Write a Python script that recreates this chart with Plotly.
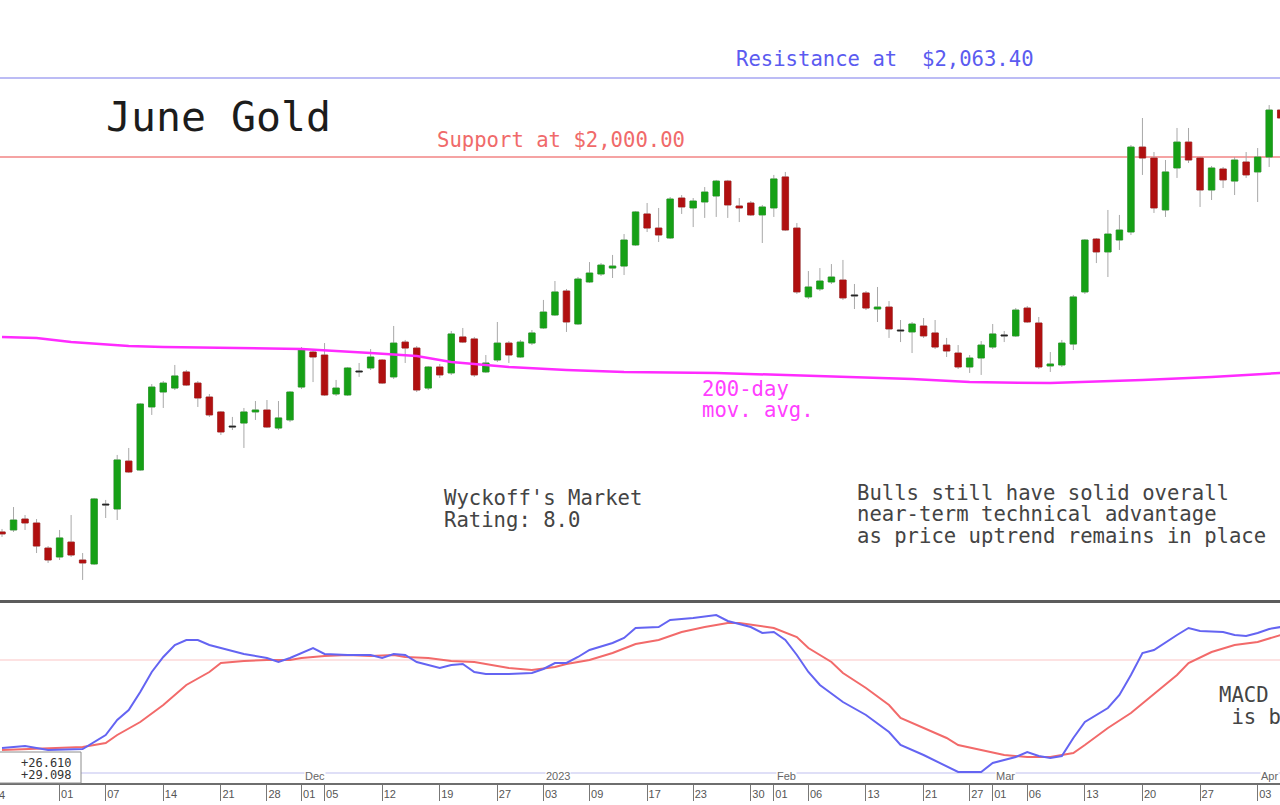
import plotly.graph_objects as go

W, H = 1280, 805

# ---------------- data ----------------
dates = [
    "2022-10-25", "2022-10-26", "2022-10-27", "2022-10-28", "2022-10-31",
    "2022-11-01", "2022-11-02", "2022-11-03", "2022-11-04", "2022-11-07", "2022-11-08", "2022-11-09",
    "2022-11-10", "2022-11-11", "2022-11-14", "2022-11-15", "2022-11-16", "2022-11-17", "2022-11-18",
    "2022-11-21", "2022-11-22", "2022-11-23", "2022-11-25", "2022-11-28", "2022-11-29", "2022-11-30",
    "2022-12-01", "2022-12-02", "2022-12-05", "2022-12-06", "2022-12-07", "2022-12-08", "2022-12-09",
    "2022-12-12", "2022-12-13", "2022-12-14", "2022-12-15", "2022-12-16", "2022-12-19", "2022-12-20",
    "2022-12-21", "2022-12-22", "2022-12-23", "2022-12-27", "2022-12-28", "2022-12-29", "2022-12-30",
    "2023-01-03", "2023-01-04", "2023-01-05", "2023-01-06", "2023-01-09", "2023-01-10", "2023-01-11",
    "2023-01-12", "2023-01-13", "2023-01-17", "2023-01-18", "2023-01-19", "2023-01-20", "2023-01-23",
    "2023-01-24", "2023-01-25", "2023-01-26", "2023-01-27", "2023-01-30", "2023-01-31",
    "2023-02-01", "2023-02-02", "2023-02-03", "2023-02-06", "2023-02-07", "2023-02-08", "2023-02-09",
    "2023-02-10", "2023-02-13", "2023-02-14", "2023-02-15", "2023-02-16", "2023-02-17", "2023-02-21",
    "2023-02-22", "2023-02-23", "2023-02-24", "2023-02-27", "2023-02-28",
    "2023-03-01", "2023-03-02", "2023-03-03", "2023-03-06", "2023-03-07", "2023-03-08", "2023-03-09",
    "2023-03-10", "2023-03-13", "2023-03-14", "2023-03-15", "2023-03-16", "2023-03-17", "2023-03-20",
    "2023-03-21", "2023-03-22", "2023-03-23", "2023-03-24", "2023-03-27", "2023-03-28", "2023-03-29",
    "2023-03-30", "2023-03-31", "2023-04-03", "2023-04-04", "2023-04-05",
]

opens = [
    1699.1, 1700.7, 1709.5, 1706.3, 1686.2, 1679.0, 1691.0, 1676.6, 1673.4, 1721.5,
    1717.5, 1756.0, 1748.8, 1799.4, 1811.4, 1814.6, 1827.5, 1818.6, 1807.4, 1795.4,
    1784.1, 1786.5, 1795.4, 1797.0, 1782.5, 1789.0, 1815.4, 1843.5, 1841.1, 1809.8,
    1809.0, 1828.3, 1830.7, 1837.1, 1823.5, 1851.5, 1846.7, 1814.6, 1831.5, 1826.7,
    1855.6, 1854.0, 1827.5, 1837.1, 1850.7, 1839.5, 1850.7, 1862.8, 1873.2, 1892.5,
    1866.0, 1899.7, 1906.1, 1910.9, 1912.5, 1929.4, 1954.3, 1943.0, 1935.0, 1967.1,
    1959.1, 1963.9, 1968.7, 1980.7, 1960.7, 1963.1, 1953.5, 1959.1, 1984.0, 1943.0,
    1887.7, 1894.1, 1899.7, 1901.3, 1889.3, 1890.9, 1878.0, 1879.6, 1861.2, 1859.6,
    1864.4, 1858.8, 1849.1, 1842.7, 1831.5, 1838.7, 1847.5, 1857.2, 1856.4, 1878.8,
    1866.8, 1832.3, 1833.1, 1849.9, 1891.7, 1934.2, 1923.8, 1933.4, 1939.8, 2008.0,
    1999.2, 1957.5, 1991.2, 2012.0, 1999.2, 1973.5, 1990.4, 1980.7, 1996.0, 1988.0,
    2000.0, 2037.7,
]
highs = [
    1701.5, 1719.1, 1712.7, 1709.5, 1687.8, 1700.7, 1712.7, 1682.2, 1726.4, 1724.8,
    1760.9, 1766.5, 1802.6, 1817.8, 1820.2, 1833.1, 1829.1, 1820.2, 1809.8, 1796.2,
    1791.4, 1798.6, 1804.2, 1805.0, 1804.2, 1812.2, 1847.5, 1845.9, 1850.7, 1821.1,
    1831.5, 1834.7, 1845.9, 1837.9, 1864.4, 1853.2, 1848.3, 1832.3, 1833.9, 1860.4,
    1862.8, 1855.6, 1841.1, 1867.6, 1852.3, 1853.2, 1861.2, 1885.3, 1900.5, 1894.1,
    1903.7, 1915.7, 1914.9, 1921.4, 1938.2, 1956.7, 1963.1, 1959.1, 1967.9, 1969.5,
    1967.1, 1975.9, 1981.6, 1981.6, 1967.1, 1964.7, 1961.5, 1985.6, 1988.0, 1947.0,
    1908.5, 1910.9, 1914.1, 1917.4, 1898.1, 1892.5, 1895.7, 1884.4, 1869.2, 1867.6,
    1870.8, 1869.2, 1854.8, 1849.1, 1841.1, 1852.3, 1866.0, 1860.4, 1878.8, 1880.4,
    1871.6, 1843.5, 1853.2, 1889.3, 1934.2, 1935.0, 1957.5, 1953.5, 2009.6, 2031.3,
    2004.0, 1997.6, 2023.3, 2023.3, 2000.0, 1992.8, 1992.0, 2000.0, 2004.0, 2007.2,
    2041.7, 2040.9,
]
lows = [
    1695.1, 1699.1, 1700.7, 1682.2, 1674.2, 1676.6, 1679.0, 1660.6, 1672.6, 1710.3,
    1708.7, 1746.4, 1748.0, 1793.0, 1798.6, 1813.0, 1816.2, 1799.4, 1791.4, 1776.9,
    1780.9, 1766.5, 1789.0, 1782.5, 1780.9, 1787.3, 1813.8, 1819.4, 1808.2, 1808.2,
    1808.2, 1823.5, 1829.1, 1817.8, 1821.9, 1834.7, 1811.4, 1813.0, 1822.7, 1825.1,
    1850.7, 1823.5, 1826.7, 1835.5, 1834.7, 1838.7, 1849.1, 1862.0, 1872.4, 1859.6,
    1865.2, 1898.9, 1904.5, 1902.9, 1905.3, 1928.6, 1939.8, 1931.8, 1934.2, 1954.3,
    1943.8, 1951.1, 1951.9, 1951.1, 1947.8, 1952.7, 1931.0, 1951.9, 1940.6, 1890.1,
    1886.1, 1892.5, 1898.1, 1885.3, 1878.0, 1877.2, 1867.6, 1854.8, 1851.5, 1842.7,
    1854.8, 1845.9, 1839.5, 1829.9, 1826.7, 1825.1, 1845.9, 1851.5, 1855.6, 1866.8,
    1829.9, 1827.5, 1831.5, 1845.1, 1890.1, 1914.9, 1903.7, 1925.4, 1937.4, 1985.6,
    1955.1, 1951.9, 1983.2, 1995.2, 1959.9, 1965.5, 1975.1, 1969.5, 1983.2, 1963.9,
    1992.0, 2028.1,
]
closes = [
    1697.5, 1708.7, 1706.3, 1687.8, 1676.6, 1694.3, 1680.6, 1674.2, 1725.6, 1720.7,
    1756.9, 1747.2, 1801.8, 1815.4, 1818.6, 1824.3, 1817.0, 1806.6, 1793.0, 1779.3,
    1783.3, 1795.4, 1797.0, 1783.3, 1790.6, 1811.4, 1845.9, 1839.5, 1809.0, 1814.6,
    1830.7, 1827.5, 1839.5, 1818.6, 1850.7, 1846.7, 1813.0, 1831.5, 1825.1, 1858.0,
    1851.5, 1825.1, 1834.7, 1850.7, 1841.1, 1851.5, 1858.8, 1875.6, 1891.7, 1867.6,
    1902.1, 1906.9, 1913.3, 1912.5, 1933.4, 1955.9, 1943.0, 1937.4, 1966.3, 1959.9,
    1964.7, 1971.9, 1980.7, 1961.5, 1959.1, 1953.5, 1959.9, 1982.4, 1941.4, 1891.7,
    1895.7, 1900.5, 1903.7, 1886.9, 1888.5, 1878.8, 1879.6, 1862.0, 1860.4, 1866.0,
    1856.4, 1847.5, 1844.3, 1831.5, 1838.7, 1849.1, 1858.0, 1856.4, 1877.2, 1867.6,
    1831.5, 1833.9, 1850.7, 1887.7, 1933.4, 1923.8, 1938.2, 1941.4, 2008.0, 1999.2,
    1959.1, 1988.0, 2012.0, 1997.6, 1973.5, 1991.2, 1981.6, 1997.6, 1985.6, 2000.0,
    2037.7, 2031.3,
]

ma200_dates = [
    "2022-10-25", "2022-10-28", "2022-11-02", "2022-11-07", "2022-11-09", "2022-11-14",
    "2022-11-22", "2022-12-01", "2022-12-09", "2022-12-15", "2022-12-20", "2022-12-28",
    "2023-01-05", "2023-01-12", "2023-01-25", "2023-02-02", "2023-02-09", "2023-02-17",
    "2023-02-27", "2023-03-08", "2023-03-20", "2023-03-28", "2023-04-05",
]
ma200_values = [
    1855.6, 1854.8, 1851.5, 1849.9, 1848.3, 1847.5, 1846.7, 1845.9, 1842.7, 1840.3,
    1835.5, 1831.5, 1829.1, 1827.5, 1826.7, 1825.1, 1823.5, 1821.9, 1819.4, 1818.6,
    1821.1, 1823.5, 1826.7,
]

macd_dates = [
    "2022-10-25", "2022-10-27", "2022-10-31", "2022-11-02", "2022-11-03", "2022-11-07",
    "2022-11-08", "2022-11-09", "2022-11-10", "2022-11-11", "2022-11-14", "2022-11-15",
    "2022-11-16", "2022-11-17", "2022-11-18", "2022-11-22", "2022-11-23", "2022-11-28",
    "2022-11-29", "2022-11-30", "2022-12-02", "2022-12-05", "2022-12-07", "2022-12-09",
    "2022-12-12", "2022-12-13", "2022-12-14", "2022-12-15", "2022-12-19", "2022-12-20",
    "2022-12-21", "2022-12-22", "2022-12-23", "2022-12-28", "2022-12-30", "2023-01-03",
    "2023-01-04", "2023-01-05", "2023-01-06", "2023-01-09", "2023-01-11", "2023-01-12",
    "2023-01-13", "2023-01-18", "2023-01-19", "2023-01-23", "2023-01-25", "2023-01-26",
    "2023-01-30", "2023-01-31", "2023-02-01", "2023-02-02", "2023-02-03", "2023-02-06",
    "2023-02-07", "2023-02-09", "2023-02-13", "2023-02-15", "2023-02-16", "2023-02-21",
    "2023-02-24", "2023-02-28", "2023-03-01", "2023-03-03", "2023-03-06", "2023-03-07",
    "2023-03-08", "2023-03-09", "2023-03-10", "2023-03-13", "2023-03-15", "2023-03-16",
    "2023-03-17", "2023-03-20", "2023-03-21", "2023-03-23", "2023-03-24", "2023-03-27",
    "2023-03-29", "2023-03-30", "2023-03-31", "2023-04-03", "2023-04-04", "2023-04-05",
]
macd_values = [
    -79.2, -77.4, -81.0, -80.1, -80.1, -67.5, -54.0, -45.0, -28.8, -10.8, 2.7, 13.5,
    18.0, 18.0, 13.5, 8.1, 5.4, 1.8, -1.8, 1.8, 10.8, 5.4, 4.5, 4.5,
    1.8, 5.4, 4.5, -1.8, -7.2, -4.5, -3.6, -10.8, -12.6, -12.6, -11.7, -8.1,
    -2.7, -2.7, 2.7, 9.0, 15.3, 19.8, 28.8, 29.7, 36.0, 37.8, 40.5, 35.1,
    29.7, 24.3, 25.2, 18.0, 4.5, -10.8, -22.5, -37.8, -49.5, -64.8, -76.5, -85.5,
    -100.8, -100.8, -92.7, -87.3, -82.8, -86.4, -88.2, -86.4, -70.2, -55.8, -43.2, -31.5,
    -13.5, 6.3, 9.0, 22.5, 28.8, 26.1, 25.2, 22.5, 21.6, 24.3, 27.9, 29.7,
]

signal_dates = [
    "2022-10-25", "2022-10-28", "2022-11-03", "2022-11-07", "2022-11-08", "2022-11-10",
    "2022-11-14", "2022-11-16", "2022-11-18", "2022-11-21", "2022-11-23", "2022-11-28",
    "2022-11-30", "2022-12-01", "2022-12-05", "2022-12-07", "2022-12-09", "2022-12-13",
    "2022-12-14", "2022-12-16", "2022-12-20", "2022-12-22", "2022-12-23", "2022-12-28",
    "2022-12-30", "2023-01-04", "2023-01-05", "2023-01-09", "2023-01-11", "2023-01-13",
    "2023-01-18", "2023-01-20", "2023-01-24", "2023-01-26", "2023-01-27", "2023-01-31",
    "2023-02-01", "2023-02-03", "2023-02-06", "2023-02-08", "2023-02-09", "2023-02-13",
    "2023-02-15", "2023-02-16", "2023-02-21", "2023-02-23", "2023-02-24", "2023-03-02",
    "2023-03-06", "2023-03-08", "2023-03-10", "2023-03-13", "2023-03-15", "2023-03-17",
    "2023-03-21", "2023-03-23", "2023-03-24", "2023-03-28", "2023-03-30", "2023-04-03",
    "2023-04-05",
]
signal_values = [
    -81.0, -80.1, -78.3, -74.7, -67.5, -55.8, -40.5, -22.5, -10.8, -2.7, -0.9, 0.0,
    0.0, 1.8, 3.6, 4.5, 3.6, 4.5, 2.7, 1.8, -0.9, -1.8, -3.6, -7.2,
    -9.0, -6.3, -3.6, 0.0, 6.3, 14.4, 18.0, 25.2, 29.7, 33.3, 33.3, 30.6,
    28.8, 20.7, 10.8, -1.8, -11.7, -25.2, -40.5, -52.2, -61.2, -70.2, -76.5, -85.5,
    -87.3, -87.3, -83.7, -76.5, -61.2, -47.7, -30.6, -13.5, -2.7, 7.2, 13.5, 16.2,
    22.5,
]

support_level = 2000.00
resistance_level = 2063.40

legend_values = ["+26.610", "+29.098"]

tick_dates = [
    "2022-11-01", "2022-11-07", "2022-11-14", "2022-11-21", "2022-11-28", "2022-12-01",
    "2022-12-05", "2022-12-12", "2022-12-19", "2022-12-27", "2023-01-03", "2023-01-09",
    "2023-01-17", "2023-01-23", "2023-01-30", "2023-02-01", "2023-02-06", "2023-02-13",
    "2023-02-21", "2023-02-27", "2023-03-01", "2023-03-06", "2023-03-13", "2023-03-20",
    "2023-03-27", "2023-04-03",
]
tick_text = [
    "01", "07", "14", "21", "28", "01", "05", "12", "19", "27", "03", "09", "17",
    "23", "30", "01", "06", "13", "21", "27", "01", "06", "13", "20", "27", "03",
]
month_dates = ["2022-12-01", "2023-01-03", "2023-02-01", "2023-03-01", "2023-04-03"]
month_text = ["Dec", "2023", "Feb", "Mar", "Apr"]

# ---------------- styling ----------------
MONO = "DejaVu Sans Mono"
SANS = "Liberation Sans"
GREEN = "#16a016"
RED = "#b01010"
BLACK = "#222222"
WICK = "#a8a8a8"
TXT = 20.6

def py(v):
    return 1 - v / H

def px(v):
    return v / W

MAIN_BOTTOM, MAIN_TOP = 600, 0
MACD_TOP, MACD_BOTTOM = 603, 783
main_range = [1644.5, 2126.0]
macd_range = [-110.7, 51.3]
x_range = [-0.174, 110.94]

body_base = [min(o, c) for o, c in zip(opens, closes)]
body_size = [abs(c - o) for o, c in zip(opens, closes)]
body_color = [BLACK if abs(c - o) < 1 else (GREEN if c > o else RED)
              for o, c in zip(opens, closes)]

fig = go.Figure()

fig.add_trace(go.Candlestick(
    x=dates, open=opens, high=highs, low=lows, close=closes,
    increasing=dict(line=dict(color=WICK, width=1), fillcolor="rgba(0,0,0,0)"),
    decreasing=dict(line=dict(color=WICK, width=1), fillcolor="rgba(0,0,0,0)"),
    xaxis="x", yaxis="y", showlegend=False, hoverinfo="skip",
))

fig.add_trace(go.Bar(
    x=dates, y=body_size, base=body_base, width=0.56,
    marker=dict(color=body_color, line=dict(color=body_color, width=0.6)),
    xaxis="x", yaxis="y3", showlegend=False, hoverinfo="skip",
))

fig.add_trace(go.Scatter(
    x=ma200_dates, y=ma200_values, mode="lines",
    line=dict(color="#ff2bff", width=2.5),
    xaxis="x", yaxis="y3", showlegend=False, hoverinfo="skip",
))

fig.add_trace(go.Scatter(
    x=signal_dates, y=signal_values, mode="lines",
    line=dict(color="#f26a6a", width=2),
    xaxis="x", yaxis="y2", showlegend=False, hoverinfo="skip",
))
fig.add_trace(go.Scatter(
    x=macd_dates, y=macd_values, mode="lines",
    line=dict(color="#6464f2", width=2),
    xaxis="x", yaxis="y2", showlegend=False, hoverinfo="skip",
))

shapes = [
    dict(type="line", xref="paper", yref="y", x0=0, x1=1, y0=resistance_level, y1=resistance_level,
         line=dict(color="#a6a6f2", width=1.5), layer="below"),
    dict(type="line", xref="paper", yref="y", x0=0, x1=1, y0=support_level, y1=support_level,
         line=dict(color="#f5a3a3", width=2), layer="below"),
    dict(type="line", xref="paper", yref="paper", x0=0, x1=1, y0=py(601.5), y1=py(601.5),
         line=dict(color="#5c5c5c", width=3)),
    dict(type="line", xref="paper", yref="y2", x0=0, x1=1, y0=0, y1=0,
         line=dict(color="#fde2e2", width=2), layer="below"),
    dict(type="line", xref="paper", yref="paper", x0=0, x1=1, y0=py(773), y1=py(773),
         line=dict(color="#d4d4f4", width=1.5), layer="below"),
    dict(type="rect", xref="paper", yref="paper", x0=px(-2), x1=px(81), y0=py(783), y1=py(752),
         line=dict(color="#8c8c8c", width=1), fillcolor="white"),
]

annotations = []

def note(text, x, y, size, color, family=MONO, xanchor="left", **kw):
    annotations.append(dict(
        text=text, xref="paper", yref="paper", x=px(x), y=py(y),
        xanchor=xanchor, yanchor="middle", showarrow=False,
        font=dict(family=family, size=size, color=color), borderpad=0, **kw))

note("June\u00a0Gold", 105, 117, 41.5, "#1c1c1c")
note("Resistance\u00a0at\u00a0\u00a0$2,063.40", 735, 59, TXT, "#5b5bf0")
note("Support\u00a0at\u00a0$2,000.00", 436, 140, TXT, "#f06a6a")
note("200-day", 701, 389, TXT, "#ff40ff")
note("mov.\u00a0avg.", 701, 410, TXT, "#ff40ff")
note("Wyckoff's\u00a0Market", 443, 498, TXT, "#444444")
note("Rating:\u00a08.0", 443, 520, TXT, "#444444")
note("Bulls\u00a0still\u00a0have\u00a0solid\u00a0overall", 856, 493, TXT, "#444444")
note("near-term\u00a0technical\u00a0advantage", 856, 514, TXT, "#444444")
note("as\u00a0price\u00a0uptrend\u00a0remains\u00a0in\u00a0place", 856, 536, TXT, "#444444")
note("MACD", 1218, 695, TXT, "#444444")
note("\u00a0is\u00a0be", 1218, 717, TXT, "#444444")
note(legend_values[0], 20, 763, 12, "#333333")
note(legend_values[1], 20, 775, 12, "#333333")
note("24", -8, 795, 11, "#555555", family=SANS)

for d, t in zip(month_dates, month_text):
    annotations.append(dict(
        text=t, xref="x", yref="paper", x=d, y=py(776), xanchor="left", yanchor="middle",
        xshift=2, showarrow=False, bgcolor="white", borderpad=0,
        font=dict(family=SANS, size=11, color="#666666")))

fig.update_layout(
    width=W, height=H,
    margin=dict(l=0, r=0, t=0, b=0),
    paper_bgcolor="white", plot_bgcolor="white",
    showlegend=False,
    boxgap=0.44, boxgroupgap=0.0,
    xaxis=dict(
        type="category", categoryorder="array", categoryarray=dates,
        range=x_range, domain=[0, 1], anchor="y2",
        rangeslider=dict(visible=False),
        showgrid=False, zeroline=False,
        showline=True, linecolor="#6e6e6e", linewidth=2,
        tickmode="array", tickvals=tick_dates, ticktext=tick_text,
        ticks="outside", ticklen=16, tickwidth=1, tickcolor="#777777",
        ticklabelposition="outside right",
        tickfont=dict(family=SANS, size=11, color="#555555"),
    ),
    yaxis=dict(domain=[py(MAIN_BOTTOM), py(MAIN_TOP)], range=main_range, visible=False,
               showgrid=False, zeroline=False, anchor="x"),
    yaxis3=dict(range=main_range, overlaying="y", visible=False, showgrid=False,
                zeroline=False, anchor="x"),
    yaxis2=dict(domain=[py(MACD_BOTTOM), py(MACD_TOP)], range=macd_range, visible=False,
                showgrid=False, zeroline=False, anchor="x"),
    shapes=shapes,
    annotations=annotations,
)

fig.write_html("out.html")
